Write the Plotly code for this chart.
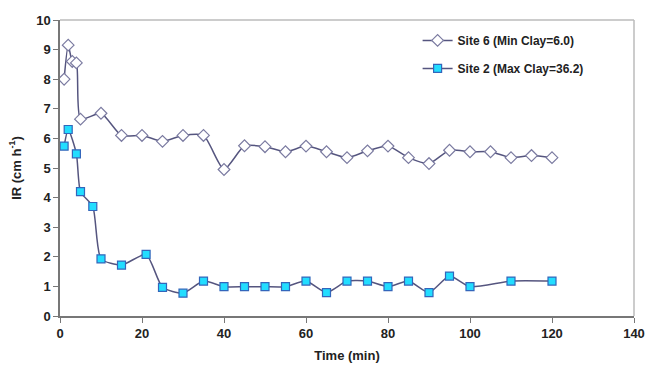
import plotly.graph_objects as go

site6_x = [1, 2, 3, 4, 5, 10, 15, 20, 25, 30, 35, 40, 45, 50, 55, 60, 65, 70, 75, 80, 85, 90, 95, 100, 105, 110, 115, 120]
site6_y = [8.0, 9.15, 8.6, 8.55, 6.65, 6.85, 6.1, 6.1, 5.9, 6.1, 6.1, 4.95, 5.75, 5.72, 5.55, 5.74, 5.55, 5.35, 5.58, 5.74, 5.35, 5.15, 5.6, 5.55, 5.55, 5.35, 5.42, 5.35]

site2_x = [1, 2, 4, 5, 8, 10, 15, 21, 25, 30, 35, 40, 45, 50, 55, 60, 65, 70, 75, 80, 85, 90, 95, 100, 110, 120]
site2_y = [5.74, 6.3, 5.48, 4.2, 3.7, 1.93, 1.72, 2.08, 0.97, 0.77, 1.18, 0.99, 0.99, 0.99, 0.99, 1.18, 0.79, 1.18, 1.18, 0.99, 1.18, 0.79, 1.35, 0.99, 1.18, 1.18]

x_ticks = [0, 20, 40, 60, 80, 100, 120, 140]
y_ticks = [0, 1, 2, 3, 4, 5, 6, 7, 8, 9, 10]

line_col = "#55557f"
FONT = "Liberation Sans, Arial, sans-serif"

fig = go.Figure()
fig.add_trace(go.Scatter(
    x=site6_x, y=site6_y, mode="lines+markers", name="<b>Site 6 (Min Clay=6.0)</b>",
    legendgroup="a",
    line=dict(color=line_col, width=1.5, shape="spline", smoothing=0.6),
    marker=dict(symbol="diamond", size=9, color="white", line=dict(color="#7a7aa0", width=1.2)),
))
fig.add_trace(go.Scatter(
    x=site2_x, y=site2_y, mode="lines+markers", name="<b>Site 2 (Max Clay=36.2)</b>",
    legendgroup="b",
    line=dict(color=line_col, width=1.5, shape="spline", smoothing=0.6),
    marker=dict(symbol="square", size=8, color="#22ddff", line=dict(color="#3366bb", width=1.2)),
))

fig.update_layout(
    width=646, height=365,
    margin=dict(l=60, r=12, t=20, b=49, autoexpand=False),
    paper_bgcolor="white", plot_bgcolor="white",
    font=dict(family=FONT, size=13, color="#222222"),
    showlegend=True,
    legend=dict(x=0.623, y=0.98, xanchor="left", yanchor="top",
                font=dict(size=12, color="#222222", family=FONT),
                bgcolor="rgba(0,0,0,0)", tracegroupgap=9, itemwidth=30),
    shapes=[
        dict(type="line", xref="paper", yref="paper", x0=0, x1=1, y0=1, y1=1,
             line=dict(color="#bbbbbb", width=1.5)),
        dict(type="line", xref="paper", yref="paper", x0=1, x1=1, y0=0, y1=1,
             line=dict(color="#bbbbbb", width=1.5)),
    ],
)
fig.update_xaxes(
    range=[0, 140], tickvals=x_ticks, ticktext=["<b>%d</b>" % v for v in x_ticks],
    automargin=False,
    showgrid=False, zeroline=False, showline=True, linecolor="#777777", linewidth=1.5,
    ticks="outside", ticklen=5, tickcolor="#777777",
    tickfont=dict(size=13, family=FONT, color="#222222"),
    title=dict(text="<b>Time (min)</b>", font=dict(size=13), standoff=11),
)
fig.update_yaxes(
    range=[0, 10], tickvals=y_ticks, ticktext=["<b>%d</b>" % v for v in y_ticks],
    automargin=False,
    showgrid=False, zeroline=False, showline=True, linecolor="#777777", linewidth=1.5,
    ticks="outside", ticklen=5, tickcolor="#777777",
    tickfont=dict(size=13, family=FONT, color="#222222"),
    title=dict(text="<b>IR (cm h<sup>-1</sup>)</b>", font=dict(size=13), standoff=12),
)

fig.write_html("out.html", config={"displayModeBar": False},
               post_script="document.body.style.margin='0';document.body.style.overflow='hidden';")
